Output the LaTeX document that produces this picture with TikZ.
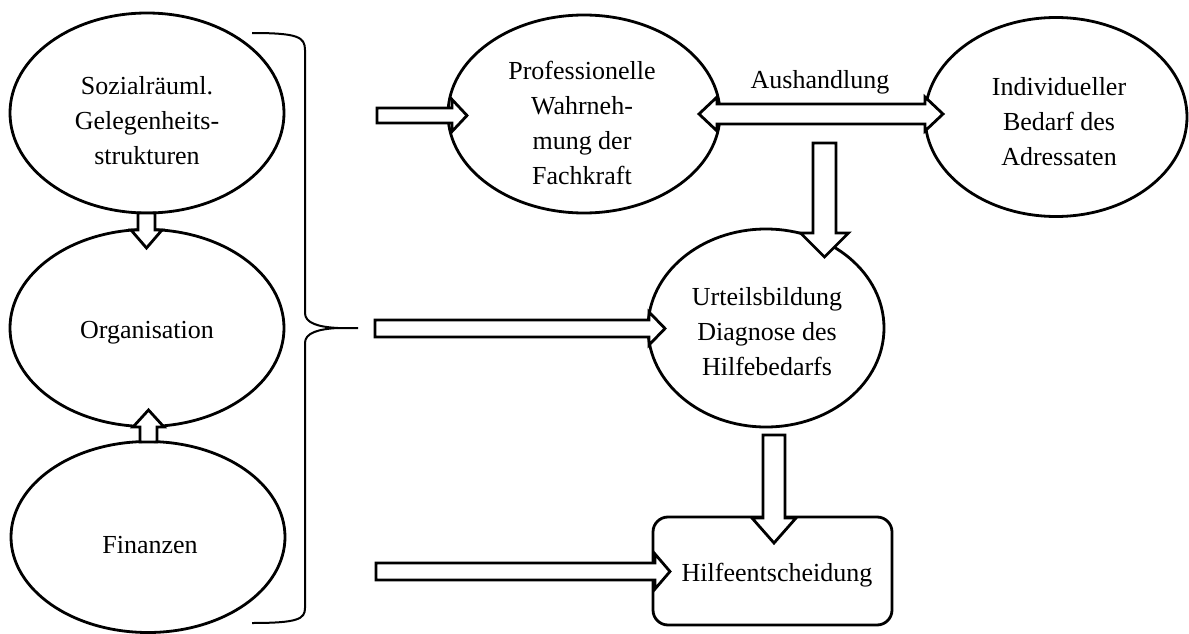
\documentclass[tikz,border=0pt]{standalone}
\usepackage{fontspec}
\setmainfont{Liberation Serif}
\usetikzlibrary{calc,shapes.geometric}
\tikzset{
  ell/.style={draw, ellipse, line width=2.8pt, inner sep=0pt},
  box/.style={draw, rectangle, rounded corners=15pt, line width=2.8pt, inner sep=0pt},
  txt/.style={align=center, inner sep=0pt, font=\fontsize{26}{35}\selectfont},
  blk/.style={draw, line width=2.8pt, fill=white, line join=miter},
  bracestyle/.style={draw, line width=2pt}
}
% start, tip, shaft half width, head half width, head length
\newcommand{\blkarrow}[5]{%
  \coordinate (ba) at ($(#2)!#5pt!(#1)$);
  \draw[blk] ($(#1)!#3pt!90:(#2)$) -- ($(ba)!#3pt!90:(#2)$) -- ($(ba)!#4pt!90:(#2)$)
    -- (#2) -- ($(ba)!#4pt!-90:(#2)$) -- ($(ba)!#3pt!-90:(#2)$) -- ($(#1)!#3pt!-90:(#2)$) -- cycle;}
% left tip, right tip, shaft half width, head half width, head length
\newcommand{\dblkarrow}[5]{%
  \coordinate (bl) at ($(#1)!#5pt!(#2)$);
  \coordinate (br) at ($(#2)!#5pt!(#1)$);
  \draw[blk] (#1) -- ($(bl)!#4pt!90:(#2)$) -- ($(bl)!#3pt!90:(#2)$) -- ($(br)!#3pt!-90:(#1)$)
    -- ($(br)!#4pt!-90:(#1)$) -- (#2) -- ($(br)!#4pt!90:(#1)$) -- ($(br)!#3pt!90:(#1)$)
    -- ($(bl)!#3pt!-90:(#2)$) -- ($(bl)!#4pt!-90:(#2)$) -- cycle;}
\begin{document}
\begin{tikzpicture}[x=1pt, y=-1pt]
\useasboundingbox (0,0) rectangle (1189,634);

% shapes
\node[ell, minimum width=274pt, minimum height=200pt] (e1) at (147,113) {};
\node[ell, minimum width=274pt, minimum height=197pt] (e2) at (147,328) {};
\node[ell, minimum width=274pt, minimum height=191pt] (e3) at (148,537) {};
\node[ell, minimum width=272pt, minimum height=198pt] (e4) at (584,114) {};
\node[ell, minimum width=262pt, minimum height=199pt] (e5) at (1056,117) {};
\node[ell, minimum width=236pt, minimum height=198pt] (e6) at (766,328) {};
\node[box, minimum width=239pt, minimum height=108pt] (r1) at (772.5,571) {};

% texts
\node[txt] (t1) at (147,121) {Sozialräuml.\\Gelegenheits-\\strukturen};
\node[txt] (t2) at (147,333) {Organisation};
\node[txt] (t3) at (150,545) {Finanzen};
\node[txt] (t4) at (582,123) {Professionelle\\Wahrneh-\\mung der\\Fachkraft};
\node[txt] (t5) at (1059,122) {Individueller\\Bedarf des\\Adressaten};
\node[txt] (t6) at (767,332) {Urteilsbildung\\Diagnose des\\Hilfebedarfs};
\node[txt] (t7) at (777,575) {Hilfeentscheidung};
\node[txt] (t8) at (820,82) {Aushandlung};

% arrow end points
\coordinate (a1s) at (146.5,213);  \coordinate (a1t) at (146.5,248);
\coordinate (a2s) at (148.5,442);  \coordinate (a2t) at (148.5,410);
\coordinate (aAs) at (377,115.5);  \coordinate (aAt) at (467,115.5);
\coordinate (aBs) at (375,328.5);  \coordinate (aBt) at (665,328.5);
\coordinate (aCs) at (376,571.5);  \coordinate (aCt) at (670,571.5);
\coordinate (dL) at (699,114);     \coordinate (dR) at (943,114);
\coordinate (d1s) at (824.5,143);  \coordinate (d1t) at (824.5,257);
\coordinate (d2s) at (774,435);    \coordinate (d2t) at (774,543);

% block arrows
\blkarrow{a1s}{a1t}{8.5}{15.5}{18}
\blkarrow{a2s}{a2t}{8.5}{15.5}{17}
\blkarrow{aAs}{aAt}{7.5}{16}{15}
\blkarrow{aBs}{aBt}{8.5}{16.5}{16}
\blkarrow{aCs}{aCt}{8.5}{17.5}{15}
\dblkarrow{dL}{dR}{10}{17}{18}
\blkarrow{d1s}{d1t}{11.5}{24}{24}
\blkarrow{d2s}{d2t}{11}{22}{25}

% brace
\coordinate (brtop) at (252,33);
\coordinate (brmid) at (338,328);
\coordinate (brtip) at (358,328);
\coordinate (brbot) at (252,623);
\draw[bracestyle] (brtop) .. controls (298,33) and (305,37) .. (305,50)
  -- (305,313) .. controls (305,323) and (318,327) .. (brmid) -- (brtip);
\draw[bracestyle] (brmid) .. controls (318,329) and (305,333) .. (305,343)
  -- (305,608) .. controls (305,619) and (298,623) .. (brbot);
\end{tikzpicture}
\end{document}
